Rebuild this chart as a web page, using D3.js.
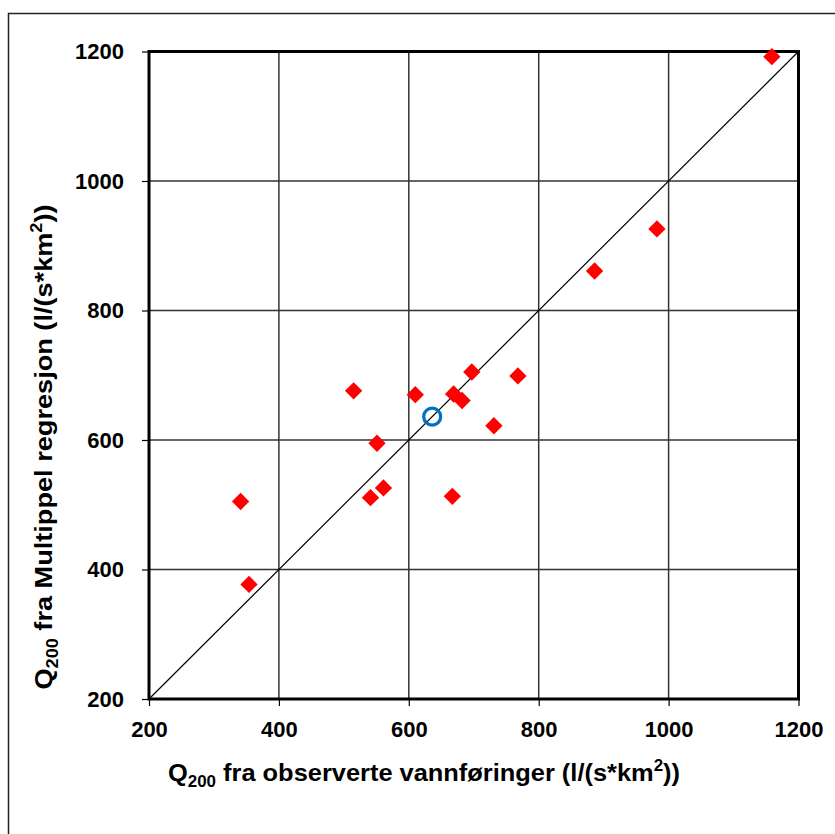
<!DOCTYPE html>
<html>
<head>
<meta charset="utf-8">
<script src="https://cdn.jsdelivr.net/npm/d3@7"></script>
<style>
  html, body { margin: 0; padding: 0; background: #fff; }
  svg { display: block; }
  text { font-family: "Liberation Sans", Arial, sans-serif; font-weight: bold; fill: #000; }
</style>
</head>
<body>
<svg id="chart" width="835" height="834"></svg>
<script>
// Q200 flood estimates: observed vs. multiple regression (l/(s*km2))
const observed   = [341, 354, 515, 551, 541, 561, 610, 669, 682, 697, 667, 731, 768, 886, 982, 1159];
const regression = [505, 377, 676, 595, 511, 526, 670, 671, 661, 705, 513, 622, 699, 861, 926, 1192];

// The station under study, shown as an open circle
const targetObserved   = [636];
const targetRegression = [636];

const tickValues = [200, 400, 600, 800, 1000, 1200];
const domain = [200, 1200];

const svg = d3.select("#chart");
const W = 835, H = 834;
const plot = { left: 149, top: 51.5, right: 798.5, bottom: 699 };

// Outer frame of the chart
svg.append("rect")
  .attr("x", 8.5).attr("y", 13.5)
  .attr("width", W).attr("height", H)
  .attr("fill", "none").attr("stroke", "#222").attr("stroke-width", 1.5);

const x = d3.scaleLinear().domain(domain).range([plot.left, plot.right]);
const y = d3.scaleLinear().domain(domain).range([plot.bottom, plot.top]);

// Grid
const grid = svg.append("g").attr("stroke", "#333").attr("stroke-width", 1.5);
grid.selectAll("line.v").data(tickValues.slice(1, -1)).join("line")
  .attr("x1", d => x(d)).attr("x2", d => x(d))
  .attr("y1", plot.top).attr("y2", plot.bottom);
grid.selectAll("line.h").data(tickValues.slice(1, -1)).join("line")
  .attr("y1", d => y(d)).attr("y2", d => y(d))
  .attr("x1", plot.left).attr("x2", plot.right);

// 1:1 reference line
svg.append("line")
  .attr("x1", x(domain[0])).attr("y1", y(domain[0]))
  .attr("x2", x(domain[1])).attr("y2", y(domain[1]))
  .attr("stroke", "#000").attr("stroke-width", 1.2);

// Axes
const xAxis = svg.append("g")
  .attr("transform", `translate(0,${plot.bottom})`)
  .call(d3.axisBottom(x).tickValues(tickValues).tickSize(7).tickPadding(15).tickFormat(d3.format("d")));
const yAxis = svg.append("g")
  .attr("transform", `translate(${plot.left},0)`)
  .call(d3.axisLeft(y).tickValues(tickValues).tickSize(7).tickPadding(18).tickFormat(d3.format("d")));

[xAxis, yAxis].forEach(g => {
  g.select(".domain").remove();
  g.selectAll(".tick line").attr("stroke", "#000").attr("stroke-width", 1.2);
  g.selectAll(".tick text").attr("font-size", 22).attr("font-family", "Liberation Sans, Arial, sans-serif")
    .attr("font-weight", "bold").attr("fill", "#000");
});

// Plot border
svg.append("rect")
  .attr("x", plot.left).attr("y", plot.top)
  .attr("width", plot.right - plot.left).attr("height", plot.bottom - plot.top)
  .attr("fill", "none").attr("stroke", "#000").attr("stroke-width", 3);

// Data points
const diamond = d3.symbol().type(d3.symbolSquare).size(150);
svg.append("g").selectAll("path")
  .data(observed.map((v, i) => [v, regression[i]]))
  .join("path")
  .attr("d", diamond)
  .attr("transform", d => `translate(${x(d[0])},${y(d[1])}) rotate(45)`)
  .attr("fill", "#ff0000");

svg.append("g").selectAll("circle")
  .data(targetObserved.map((v, i) => [v, targetRegression[i]]))
  .join("circle")
  .attr("cx", d => x(d[0])).attr("cy", d => y(d[1]))
  .attr("r", 8.5)
  .attr("fill", "none").attr("stroke", "#0070c0").attr("stroke-width", 3.2);

// Axis titles with sub/superscripts
function title(sel, head) {
  sel.append("tspan").text("Q");
  sel.append("tspan").attr("font-size", 16).attr("dy", 6).text("200");
  sel.append("tspan").attr("dy", -6).text(head + " (l/(s*km");
  sel.append("tspan").attr("font-size", 16).attr("dy", -10).text("2");
  sel.append("tspan").attr("dy", 10).text("))");
}

const xt = svg.append("text")
  .attr("x", 424).attr("y", 781)
  .attr("text-anchor", "middle").attr("font-size", 24)
  .attr("textLength", 512).attr("lengthAdjust", "spacingAndGlyphs");
title(xt, " fra observerte vannføringer");

const yt = svg.append("text")
  .attr("transform", "translate(52,447) rotate(-90)")
  .attr("text-anchor", "middle").attr("font-size", 24)
  .attr("textLength", 485).attr("lengthAdjust", "spacingAndGlyphs");
title(yt, " fra Multippel regresjon");
</script>
</body>
</html>
